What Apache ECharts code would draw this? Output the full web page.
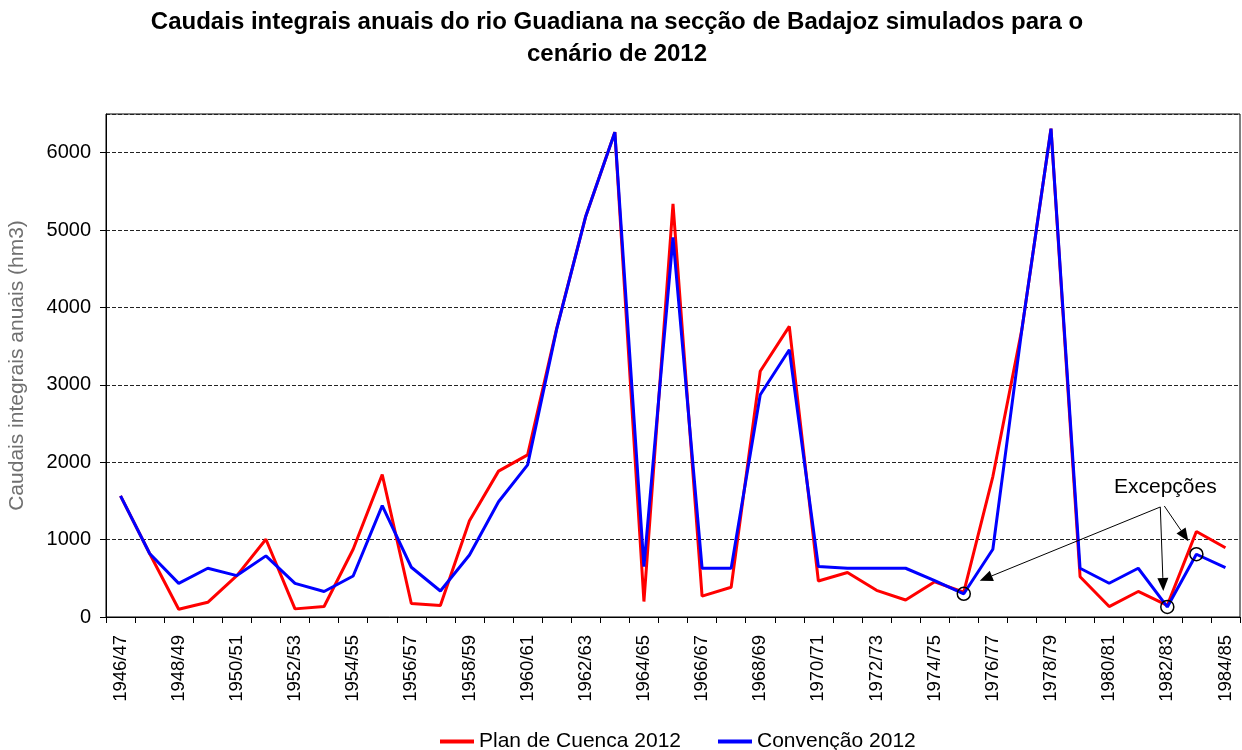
<!DOCTYPE html>
<html>
<head>
<meta charset="utf-8">
<script src="https://cdn.jsdelivr.net/npm/echarts@6/dist/echarts.min.js"></script>
<style>
html,body{margin:0;padding:0;background:#fff;}
#chart{width:1242px;height:750px;}
</style>
</head>
<body>
<div id="chart"></div>
<script>
const categories = ['1946/47','1947/48','1948/49','1949/50','1950/51','1951/52','1952/53','1953/54','1954/55','1955/56',
  '1956/57','1957/58','1958/59','1959/60','1960/61','1961/62','1962/63','1963/64','1964/65','1965/66',
  '1966/67','1967/68','1968/69','1969/70','1970/71','1971/72','1972/73','1973/74','1974/75','1975/76',
  '1976/77','1977/78','1978/79','1979/80','1980/81','1981/82','1982/83','1983/84','1984/85'];

const planCuenca = [1565,820,100,190,535,1005,105,135,875,1840,
  175,150,1245,1885,2095,3730,5180,6265,200,5340,
  270,385,3175,3755,465,575,345,220,455,320,
  1815,3720,6310,520,135,330,150,1105,895];

const convencao = [1565,820,435,630,535,790,435,330,530,1440,
  643,336,802,1490,1966,3720,5180,6265,651,4905,
  630,630,2872,3454,651,630,630,630,470,300,
  875,3720,6310,630,436,630,130,811,638];

const seriesNames = ['Plan de Cuenca 2012','Convenção 2012'];
const exceptionIdx = [29, 36, 37];
const yMax = 6500, yInterval = 1000;

const FONT = "'Liberation Sans', Arial, sans-serif";

const chart = echarts.init(document.getElementById('chart'), null, {renderer:'canvas'});

const option = {
  animation: false,
  backgroundColor: '#fff',
  title: {
    text: 'Caudais integrais anuais do rio Guadiana na secção de Badajoz simulados para o\ncenário de 2012',
    left: 612,
    textAlign: 'center',
    top: 1,
    textStyle: {fontFamily: FONT, fontSize: 24, fontWeight: 'bold', color: '#000', lineHeight: 32}
  },
  legend: {
    left: 435,
    top: 726,
    itemWidth: 34,
    itemHeight: 4,
    itemGap: 37,
    icon: 'rect',
    textStyle: {fontFamily: FONT, fontSize: 21, color: '#000'},
    data: seriesNames
  },
  grid: {
    left: 106, right: 2, top: 114, bottom: 133,
    show: true, borderColor: '#000', borderWidth: 1,
    outerBoundsMode: 'none'
  },
  xAxis: {
    type: 'category',
    data: categories,
    boundaryGap: true,
    axisLine: {lineStyle: {color: '#000', width: 1}},
    axisTick: {show: true, interval: 0, length: 6, lineStyle: {color: '#000'}},
    axisLabel: {interval: 1, rotate: 90, margin: 18, fontFamily: FONT, fontSize: 18.5, color: '#000'},
    splitLine: {show: false}
  },
  yAxis: {
    type: 'value',
    min: 0, max: yMax, interval: yInterval,
    name: 'Caudais integrais anuais (hm3)',
    nameLocation: 'middle',
    nameGap: 78,
    nameTextStyle: {fontFamily: FONT, fontSize: 21, color: '#707070'},
    axisLine: {show: true, lineStyle: {color: '#000', width: 1}},
    axisTick: {show: true, length: 6, lineStyle: {color: '#000'}},
    axisLabel: {margin: 15, fontFamily: FONT, fontSize: 20, color: '#000', showMaxLabel: false,
      formatter: v => String(v)},
    splitLine: {show: true, lineStyle: {color: '#222', type: [4,2], width: 1}}
  },
  series: [
    {name: seriesNames[0], type: 'line', data: planCuenca, symbol: 'none',
     lineStyle: {color: '#ff0000', width: 3}, itemStyle: {color: '#ff0000'}, z: 2},
    {name: seriesNames[1], type: 'line', data: convencao, symbol: 'none',
     lineStyle: {color: '#0000ff', width: 3}, itemStyle: {color: '#0000ff'}, z: 3}
  ]
};
chart.setOption(option);

// Annotations (circles around exceptions, arrows, label) positioned from data coordinates
function px(i, v){ return chart.convertToPixel({seriesIndex: 1}, [i, v]); }
const circles = exceptionIdx.map(i => px(i, convencao[i]));
const anchor = px(36, 1680);
const textPos = [anchor[0] - 2, anchor[1]];
const origin = [anchor[0] - 7, anchor[1] + 20];
const origin2 = [anchor[0] - 3, anchor[1] + 19];
const tips = [
  [circles[0][0] + 16, circles[0][1] - 13],
  [circles[1][0] - 4, circles[1][1] - 16],
  [circles[2][0] - 8, circles[2][1] - 13]
];
const starts = [origin, origin, origin2];
const graphics = [];
circles.forEach(c => graphics.push({type:'circle', shape:{cx:c[0], cy:c[1], r:6.5},
  style:{fill:'none', stroke:'#000', lineWidth:1.5}, z: 100}));
tips.forEach((t, k) => {
  const s = starts[k];
  const dx = t[0]-s[0], dy = t[1]-s[1];
  const L = Math.sqrt(dx*dx+dy*dy), ux = dx/L, uy = dy/L;
  const hl = 13, hw = 5.5;
  const bx = t[0]-ux*hl, by = t[1]-uy*hl;
  graphics.push({type:'line', shape:{x1:s[0], y1:s[1], x2:bx, y2:by},
    style:{stroke:'#000', lineWidth:1}, z: 100});
  graphics.push({type:'polygon', shape:{points:[[t[0],t[1]],[bx-uy*hw, by+ux*hw],[bx+uy*hw, by-ux*hw]]},
    style:{fill:'#000'}, z: 100});
});
graphics.push({type:'text', x: textPos[0], y: textPos[1],
  style:{text:'Excepções', fontFamily: FONT, fontSize: 21, fill:'#000', align:'center', verticalAlign:'middle'}, z: 100});
chart.setOption({graphic: graphics});
</script>
</body>
</html>
